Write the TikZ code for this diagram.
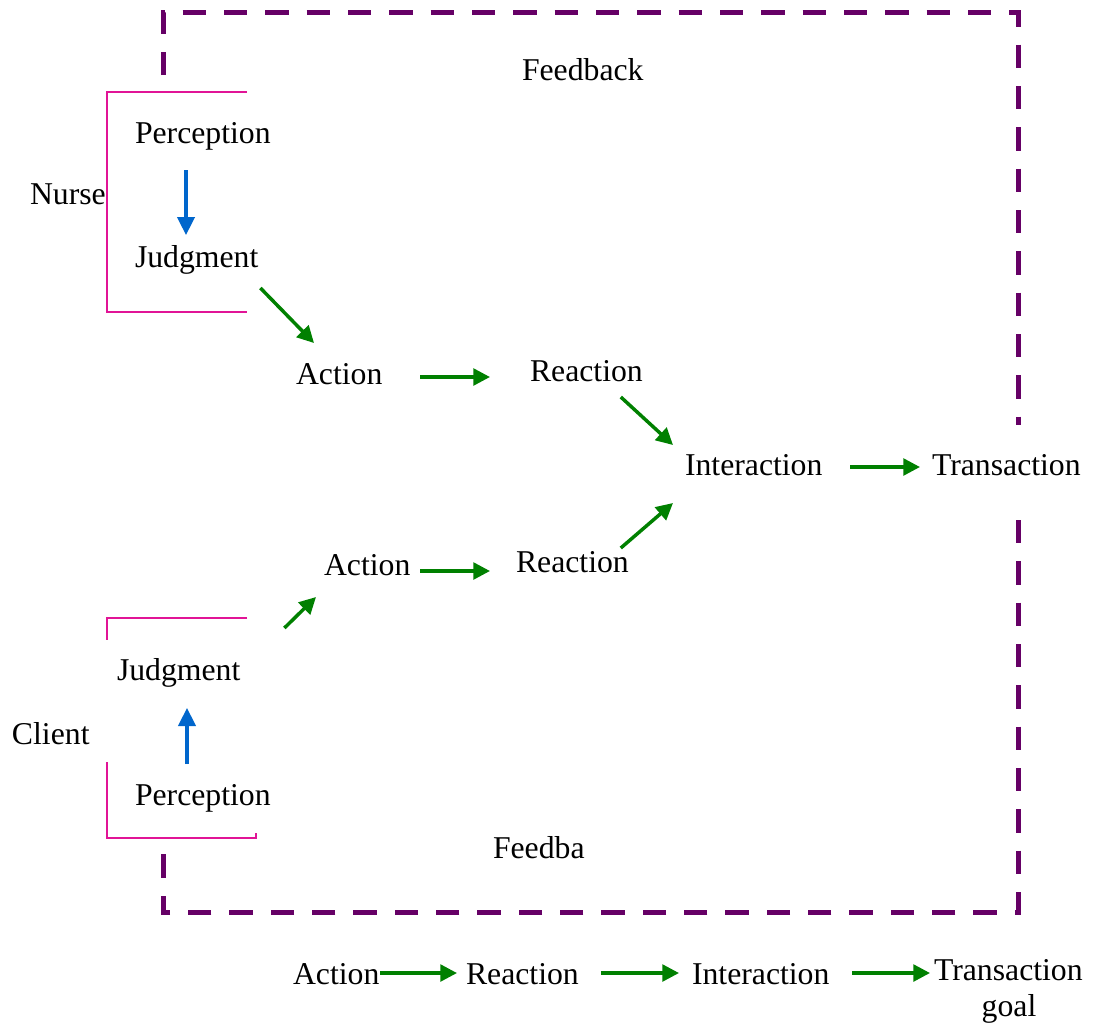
\documentclass[tikz,border=0pt]{standalone}
\usepackage{fontspec}
\setmainfont{Liberation Serif}
\usetikzlibrary{calc,arrows.meta}
\definecolor{fbpurple}{RGB}{102,0,102}
\definecolor{brmag}{RGB}{225,20,150}
\definecolor{agreen}{RGB}{0,128,0}
\definecolor{ablue}{RGB}{0,102,204}
\tikzset{
  lbl/.style={anchor=base west,inner sep=0pt,outer sep=0pt,font=\fontsize{23.8pt}{28pt}\selectfont},
  garrow/.style={draw=agreen,line width=2.6pt,-{Triangle[length=12.5pt,width=12.5pt]},fill=agreen},
  barrow/.style={draw=ablue,line width=2.4pt,-{Triangle[length=13.5pt,width=13pt]},fill=ablue},
  frame/.style={draw=fbpurple,line width=3.75pt,dash pattern=on 17.5pt off 13.5pt},
  bracket/.style={draw=brmag,line width=1.2pt}
}
\begin{document}
\begin{tikzpicture}[x=0.75pt,y=-0.75pt]
\useasboundingbox (0,0) rectangle (1094,1025);
% feedback frame
\draw[frame] (163,75) -- (163,12) -- (1018,12) -- (1018,425);
\draw[frame] (1018,520) -- (1018,912) -- (163,912) -- (163,850);
% brackets
\draw[bracket] (247,92) -- (107,92) -- (107,312) -- (247,312);
\draw[bracket] (247,618) -- (107,618) -- (107,640);
\draw[bracket] (107,762) -- (107,838) -- (256,838) -- (256,833);
% labels
\node[lbl] (fb1) at (522,80) {Feedback};
\node[lbl] (p1) at (135,143) {Perception};
\node[lbl] (nurse) at (30,204) {Nurse};
\node[lbl] (j1) at (135,267) {Judgment};
\node[lbl] (a1) at (296,384) {Action};
\node[lbl] (r1) at (530,381) {Reaction};
\node[lbl] (ia) at (685,475) {Interaction};
\node[lbl] (ta) at (932,475) {Transaction};
\node[lbl] (a2) at (324,575) {Action};
\node[lbl] (r2) at (516,572) {Reaction};
\node[lbl] (j2) at (117,680) {Judgment};
\node[lbl] (client) at (12,744) {Client};
\node[lbl] (p2) at (135,805) {Perception};
\node[lbl] (fb2) at (493,858) {Feedba};
\node[lbl] (b1) at (293,984) {Action};
\node[lbl] (b2) at (466,984) {Reaction};
\node[lbl] (b3) at (692,984) {Interaction};
\node[lbl] (b4) at (934,980) {Transaction};
\node[lbl,anchor=base] (goal) at (1009,1016) {goal};
% arrows
\draw[barrow] ($(p1.base west)+(51,27)$) -- ($(j1.base west)+(51,-32)$);
\draw[garrow] ($(j1.base east)+(2,21)$) -- ($(a1.base west)+(18,-41)$);
\draw[garrow] ($(a1.base east)+(38,-7)$) -- ($(r1.base west)+(-40,-4)$);
\draw[garrow] ($(r1.base east)+(-22,16)$) -- ($(ia.base west)+(-12,-30)$);
\draw[garrow] ($(ia.base east)+(28,-8)$) -- ($(ta.base west)+(-12,-8)$);
\draw[garrow] ($(a2.base east)+(10,-4)$) -- ($(r2.base west)+(-26,-1)$);
\draw[garrow] ($(r2.base east)+(-8,-24)$) -- ($(ia.base west)+(-12,28)$);
\draw[garrow] ($(j2.base east)+(44,-52)$) -- ($(a2.base west)+(-8,22)$);
\draw[barrow] ($(p2.base west)+(52,-41)$) -- ($(j2.base west)+(70,28)$);
\draw[garrow] ($(b1.base east)+(1,-11)$) -- ($(b2.base west)+(-9,-11)$);
\draw[garrow] ($(b2.base east)+(22,-11)$) -- ($(b3.base west)+(-13,-11)$);
\draw[garrow] ($(b3.base east)+(23,-11)$) -- ($(b4.base west)+(-4,-7)$);
\end{tikzpicture}
\end{document}
